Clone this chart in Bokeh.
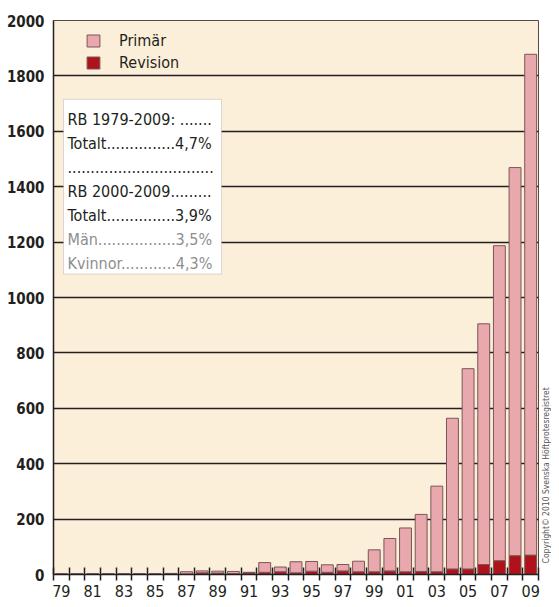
import math
from bokeh.plotting import figure
from bokeh.layouts import row
from bokeh.models import (Range1d, FixedTicker, BoxAnnotation, Label, Legend,
                          LegendItem, ColumnDataSource)
from bokeh.embed import file_html
from bokeh.resources import INLINE

# ---------------- data ----------------
years = ["79", "80", "81", "82", "83", "84", "85", "86", "87", "88", "89",
         "90", "91", "92", "93", "94", "95", "96", "97", "98", "99",
         "00", "01", "02", "03", "04", "05", "06", "07", "08", "09"]
totals = [3, 3, 3, 3, 3, 3, 3, 4, 10, 13, 12, 11, 8, 43, 27, 46, 47, 35, 36, 48,
          89, 130, 168, 217, 319, 564, 743, 905, 1187, 1469, 1878]
revision = [1, 1, 1, 1, 1, 1, 1, 3, 2, 6, 5, 3, 6, 8, 10, 6, 12, 8, 13, 10,
            10, 13, 10, 11, 10, 20, 20, 36, 50, 68, 70]
primar = [t - r for t, r in zip(totals, revision)]
y_ticks = [0, 200, 400, 600, 800, 1000, 1200, 1400, 1600, 1800, 2000]
series_names = ["Revision", "Primär"]
box_lines = ["RB 1979-2009: .......",
             "Totalt...............4,7%",
             "................................",
             "RB 2000-2009.........",
             "Totalt...............3,9%",
             "Män.................3,5%",
             "Kvinnor............4,3%"]
copyright_text = "Copyright© 2010 Svenska Höftprotesregistret"

# ---------------- style ----------------
FONT = "DejaVu Sans Condensed"
BG = "#FCEFDA"
PINK = "#E9A8AE"
RED = "#B0121B"
EDGE = "#7A5656"
INK = "#231F20"

n = len(years)
x = list(range(n))

TOTAL_W, H = 551, 599
W = 540
B_LEFT, B_RIGHT, B_TOP, B_BOT = 53, 2, 20, 24
FRAME_W = W - B_LEFT - B_RIGHT
FRAME_H = H - B_TOP - B_BOT
bar_px = FRAME_W / n
val_px = FRAME_H / 2000.0


def dx(px):
    return (px - B_LEFT) / bar_px - 0.5


def dy(py):
    return (B_TOP + FRAME_H - py) / val_px


p = figure(width=W, height=H, output_backend="svg", toolbar_location=None,
           x_range=Range1d(-0.5, n - 0.5), y_range=Range1d(0, 2000),
           min_border_left=B_LEFT, min_border_right=B_RIGHT,
           min_border_top=B_TOP, min_border_bottom=B_BOT)
p.background_fill_color = BG
p.border_fill_color = "white"
p.outline_line_color = "#5A4A45"
p.outline_line_width = 1

src = ColumnDataSource(dict(x=x, Revision=revision, Primär=primar))
rends = p.vbar_stack(series_names, x="x", width=0.76, source=src,
                     color=[RED, PINK], line_color=EDGE, line_width=1)

yax = p.yaxis[0]
yax.ticker = FixedTicker(ticks=y_ticks)
yax.major_tick_in = 0
yax.major_tick_out = 0
yax.minor_tick_in = 0
yax.minor_tick_out = 0
yax.major_label_standoff = 9
yax.major_label_text_font = FONT
yax.major_label_text_font_style = "bold"
yax.major_label_text_font_size = "15px"
yax.major_label_text_color = INK
yax.axis_line_color = INK
yax.axis_line_width = 1.5

xax = p.xaxis[0]
xax.ticker = FixedTicker(ticks=list(range(0, n, 2)),
                         minor_ticks=[i - 0.5 for i in range(n + 1)])
xax.major_label_overrides = {i: years[i] for i in range(0, n, 2)}
xax.major_tick_in = 0
xax.major_tick_out = 0
xax.minor_tick_in = 7
xax.minor_tick_out = 6
xax.minor_tick_line_color = INK
xax.minor_tick_line_width = 1.5
xax.major_label_standoff = 4
xax.major_label_text_font = FONT
xax.major_label_text_font_size = "16px"
xax.major_label_text_color = INK
xax.axis_line_color = INK
xax.axis_line_width = 1.5

p.xgrid.grid_line_color = None
p.ygrid.ticker = FixedTicker(ticks=y_ticks)
p.ygrid.grid_line_color = INK
p.ygrid.grid_line_width = 1.5

legend = Legend(items=[LegendItem(label="Primär", renderers=[rends[1]]),
                       LegendItem(label="Revision", renderers=[rends[0]])],
                location=(32, FRAME_H - 12 - 41), orientation="vertical",
                glyph_width=16, glyph_height=15, label_height=15,
                spacing=3, padding=0, margin=0, label_standoff=18,
                border_line_alpha=0, background_fill_alpha=0,
                label_text_font=FONT, label_text_font_size="16px",
                label_text_color=INK)
p.add_layout(legend, "center")

box = BoxAnnotation(left=dx(63), right=dx(221), top=dy(99), bottom=dy(274),
                    fill_color="white", fill_alpha=1.0,
                    line_color="#8C8C8C", line_width=1)
p.add_layout(box)
baselines = [119, 143, 167, 191, 215, 239, 263]
colors = [INK, INK, INK, INK, INK, "#8E8E8E", "#8E8E8E"]
for txt, bl, col in zip(box_lines, baselines, colors):
    p.add_layout(Label(x=dx(67), y=dy(bl), text=txt, text_font=FONT,
                       text_font_size="16px", text_color=col,
                       text_baseline="alphabetic", text_align="left"))

# narrow strip on the right holding the vertical copyright note
p2 = figure(width=TOTAL_W - W, height=H, output_backend="svg",
            toolbar_location=None, title=None,
            x_axis_location=None, y_axis_location=None,
            x_range=Range1d(0, 1), y_range=Range1d(0, H), min_border=0)
p2.grid.visible = False
p2.outline_line_color = None
p2.background_fill_color = "white"
p2.border_fill_color = "white"
p2.add_layout(Label(x=0.5, y=H - 587, text=copyright_text, angle=math.pi / 2,
                    text_font=FONT, text_font_size="8.5px",
                    text_color="#555555", text_baseline="middle",
                    text_align="left"))

layout = row(p, p2)
open("out.html", "w").write(file_html(layout, INLINE))
